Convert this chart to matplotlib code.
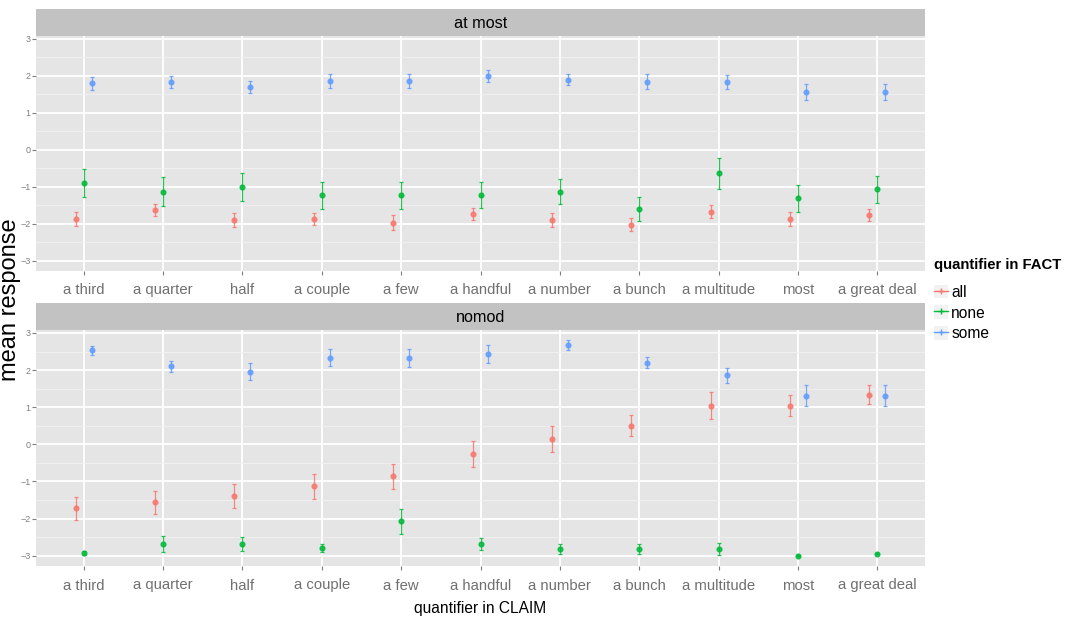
import matplotlib
matplotlib.use("Agg")
import matplotlib.pyplot as plt
import numpy as np
from matplotlib import font_manager
from matplotlib.lines import Line2D
from matplotlib.patches import Rectangle
from matplotlib.legend_handler import HandlerTuple

# the reference text is squeezed sideways; use a narrow face when there is one
installed = {f.name for f in font_manager.fontManager.ttflist}
if "Liberation Sans Narrow" in installed:
    COND, SCALE = "Liberation Sans Narrow", 1 / 0.82
else:
    COND, SCALE = "Liberation Sans", 1.0
plt.rcParams["font.family"] = [COND, "DejaVu Sans"]
BIG = 10.7 * SCALE

# categories on the x axis
claims = ["a third", "a quarter", "half", "a couple", "a few", "a handful",
          "a number", "a bunch", "a multitude", "most", "a great deal"]
facts = ["all", "none", "some"]
panels = ["at most", "nomod"]

# mean response and half-width of the error bar, panel "at most"
atmost_all = [-1.87, -1.63, -1.90, -1.87, -1.97, -1.74, -1.90, -2.03, -1.67, -1.87, -1.77]
atmost_all_err = [0.20, 0.16, 0.18, 0.16, 0.20, 0.17, 0.18, 0.18, 0.17, 0.18, 0.16]
atmost_none = [-0.90, -1.13, -1.00, -1.23, -1.23, -1.23, -1.13, -1.60, -0.63, -1.31, -1.07]
atmost_none_err = [0.37, 0.39, 0.38, 0.36, 0.36, 0.35, 0.35, 0.32, 0.42, 0.37, 0.37]
atmost_some = [1.80, 1.83, 1.70, 1.86, 1.86, 2.00, 1.90, 1.84, 1.84, 1.56, 1.56]
atmost_some_err = [0.18, 0.17, 0.15, 0.20, 0.20, 0.16, 0.15, 0.20, 0.19, 0.22, 0.21]

# panel "nomod"
nomod_all = [-1.73, -1.56, -1.40, -1.13, -0.86, -0.26, 0.14, 0.50, 1.04, 1.04, 1.34]
nomod_all_err = [0.32, 0.31, 0.32, 0.34, 0.34, 0.34, 0.36, 0.29, 0.36, 0.28, 0.25]
nomod_none = [-2.93, -2.69, -2.69, -2.79, -2.08, -2.69, -2.82, -2.82, -2.82, -3.00, -2.95]
nomod_none_err = [0.05, 0.22, 0.19, 0.10, 0.34, 0.16, 0.14, 0.14, 0.17, 0.01, 0.02]
nomod_some = [2.53, 2.10, 1.96, 2.33, 2.33, 2.43, 2.67, 2.20, 1.86, 1.31, 1.31]
nomod_some_err = [0.13, 0.14, 0.23, 0.23, 0.25, 0.24, 0.14, 0.14, 0.20, 0.29, 0.28]

colors = {"all": "#F8766D", "none": "#00BA38", "some": "#619CFF"}
offsets = {"all": -0.1, "none": 0.0, "some": 0.1}

data = {
    "at most": {"all": (atmost_all, atmost_all_err),
                "none": (atmost_none, atmost_none_err),
                "some": (atmost_some, atmost_some_err)},
    "nomod": {"all": (nomod_all, nomod_all_err),
              "none": (nomod_none, nomod_none_err),
              "some": (nomod_some, nomod_some_err)},
}

W, H = 1068, 621
fig = plt.figure(figsize=(W / 100, H / 100), dpi=100)


def px_box(x0, y0, x1, y1):
    return [x0 / W, 1 - y1 / H, (x1 - x0) / W, (y1 - y0) / H]


# panel boxes in pixels: (left, strip top, panel top, right, panel bottom)
boxes = [(36, 9, 36, 925, 271), (36, 303, 330, 925, 566)]
x = np.arange(1, len(claims) + 1)

for panel, (l, st, pt, r, pb) in zip(panels, boxes):
    ax = fig.add_axes(px_box(l, pt, r, pb))
    ax.set_facecolor("#E5E5E5")
    for s in ax.spines.values():
        s.set_visible(False)
    ax.set_xlim(0.4, 11.6)
    ax.set_ylim(-3.28, 3.08)
    ax.set_yticks([-3, -2, -1, 0, 1, 2, 3])
    ax.set_yticks(np.arange(-2.5, 3, 1.0), minor=True)
    ax.set_xticks(x)
    ax.set_xticklabels(claims, fontsize=BIG, color="#707070")
    ax.tick_params(axis="y", which="major", labelsize=6.5, labelcolor="#808080",
                   color="#7F7F7F", length=3, width=0.8, pad=1)
    ax.tick_params(axis="y", which="minor", length=0)
    ax.tick_params(axis="x", length=3, width=0.8, color="#7F7F7F", pad=6)
    ax.grid(True, which="major", color="white", linewidth=1.3)
    ax.grid(True, which="minor", axis="y", color="#F2F2F2", linewidth=0.6)
    ax.set_axisbelow(True)

    for f in facts:
        m, e = data[panel][f]
        ax.errorbar(x + offsets[f], m, yerr=e, fmt="o", color=colors[f],
                    markersize=3.4, elinewidth=0.9, capsize=1.4, capthick=0.9,
                    alpha=0.85)

    sax = fig.add_axes(px_box(l, st, r, pt))
    sax.set_facecolor("#C2C2C2")
    sax.set_xticks([])
    sax.set_yticks([])
    for s in sax.spines.values():
        s.set_visible(False)
    sax.text(0.5, 0.45, panel, ha="center", va="center", fontsize=BIG + 1,
             transform=sax.transAxes)

fig.text(480 / W, 1 - 609 / H, "quantifier in CLAIM", ha="center",
         va="center", fontsize=BIG + 0.5)
fig.text(21 / W, 1 - 300 / H, "mean response", ha="right", va="center",
         rotation=90, fontsize=17, family=["Liberation Sans", "DejaVu Sans"])

handles = [(Rectangle((0, 0), 1, 1, facecolor="#F2F2F2", edgecolor="none"),
            Line2D([0], [0], color=colors[f], marker="+", markersize=5,
                   linewidth=1)) for f in facts]
leg = fig.legend(handles, facts, loc="upper left",
                 bbox_to_anchor=(934 / W, 1 - 258 / H), frameon=False,
                 title="quantifier in FACT", fontsize=BIG + 0.5,
                 handler_map={tuple: HandlerTuple(ndivide=1)},
                 handlelength=0.9, handleheight=1.0, handletextpad=0.2,
                 labelspacing=0.35, borderaxespad=0, borderpad=0)
leg.get_title().set_fontweight("bold")
leg.get_title().set_fontsize(BIG)
leg._legend_box.align = "left"
leg._legend_box.sep = 9

fig.savefig("out.png", dpi=100)
